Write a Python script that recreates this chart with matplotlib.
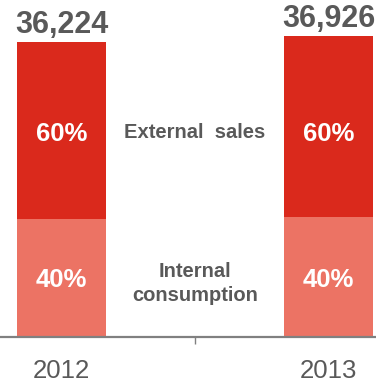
import matplotlib.pyplot as plt
import numpy as np

plt.rcParams['font.family'] = ['Liberation Sans', 'DejaVu Sans']

years = ['2012', '2013']
totals = [36224, 36926]
internal_share = [40, 40]
external_share = [60, 60]

dark_red = '#DA291C'
light_red = '#EC7364'
grey = '#595959'

X = np.arange(len(years))
internal = np.array(totals) * np.array(internal_share) / 100
external = np.array(totals) * np.array(external_share) / 100

fig = plt.figure(figsize=(3.76, 3.82), dpi=100)
ax = fig.add_axes([0, 0.118, 1, 0.882])

barWidth = 0.333
ax.bar(X, internal, width=barWidth, color=light_red)
ax.bar(X, external, width=barWidth, bottom=internal, color=dark_red)

# label rows are aligned across both bars
y_ext = internal[0] + external[0] / 2 - 450
y_int = internal[0] / 2 - 300

for i in X:
    ax.text(i, y_int, f'{internal_share[i]}%', ha='center', va='center',
            color='white', fontsize=18.5, fontweight='bold')
    ax.text(i, y_ext, f'{external_share[i]}%', ha='center', va='center',
            color='white', fontsize=18.5, fontweight='bold')
    ax.text(i, totals[i] + 250, f'{totals[i]:,}', ha='center', va='bottom',
            color=grey, fontsize=22, fontweight='bold')

ax.text(0.5, y_ext + 150, 'External  sales', ha='center', va='center',
        color=grey, fontsize=14.5, fontweight='bold')
ax.text(0.5, internal[0] / 2 - 700, 'Internal\nconsumption', ha='center', va='center',
        color=grey, fontsize=14.5, fontweight='bold', linespacing=1.3)

ax.set_xlim(-0.23, 1.178)
ax.set_ylim(0, 41380)

for s in ['top', 'right', 'left']:
    ax.spines[s].set_visible(False)
ax.spines['bottom'].set_color('#808080')
ax.spines['bottom'].set_linewidth(1.6)

ax.set_yticks([])
ax.set_xticks([0.5])
ax.set_xticklabels([''])
ax.tick_params(axis='x', length=5, width=1, color='#808080')
for i in X:
    ax.text(i, -2750, years[i], ha='center', va='top', color=grey, fontsize=18.5)

fig.savefig('out.png', dpi=100)
